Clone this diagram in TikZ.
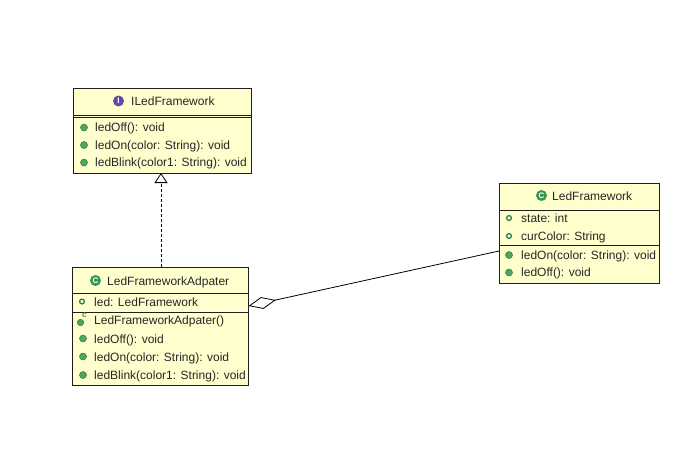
\documentclass[tikz,border=0pt]{standalone}
\usepackage{fontspec}
\setmainfont{Liberation Sans}
\usetikzlibrary{arrows.meta}
\definecolor{boxfill}{RGB}{255,255,206}
\definecolor{boxline}{RGB}{30,30,30}
\definecolor{methfill}{RGB}{80,165,95}
\definecolor{methdraw}{RGB}{45,120,60}
\definecolor{fieldc}{RGB}{45,125,75}
\definecolor{classic}{RGB}{55,150,75}
\definecolor{ifaceic}{RGB}{95,75,165}
\tikzset{
  cls/.style={draw=boxline, fill=boxfill, line width=0.9pt, anchor=north west, inner sep=0pt, outer sep=0pt},
  sep/.style={draw=boxline, line width=0.9pt},
  txt/.style={anchor=base west, inner sep=0pt, font=\fontsize{12}{14}\selectfont, text=black!85},
  hdr/.style={anchor=base west, inner sep=0pt, font=\fontsize{12}{14}\selectfont, text=black!85},
  meth/.style={circle, fill=methfill, draw=methdraw, line width=0.5pt, minimum size=7pt, inner sep=0pt},
  fieldic/.style={circle, draw=fieldc, line width=1.3pt, minimum size=4.8pt, inner sep=0pt},
  hdric/.style={circle, minimum size=11pt, inner sep=0pt, text=white, font=\fontsize{8}{8}\selectfont\bfseries},
  conn/.style={draw=black, line width=0.8pt},
}
\begin{document}
\begin{tikzpicture}[x=1pt,y=-1pt]
\useasboundingbox (0,0) rectangle (686,467);
\fill[white] (0,0) rectangle (686,467);

% ---------------- ILedFramework
\node[cls, minimum width=178pt, minimum height=85pt] (il) at (73,88) {};
\draw[sep] (73,115) -- (251,115);
\draw[sep] (73,117.5) -- (251,117.5);
\node[hdric, fill=ifaceic] (ilic) at (118.5,101) {I};
\node[hdr] (ilt) at (131,105.3) {ILedFramework};
\node[meth] (ilm1) at (84,127.5) {};
\node[txt] (ilt1) at (95,131.8) {ledOff(): void};
\node[meth] (ilm2) at (84,145) {};
\node[txt] (ilt2) at (95,149.3) {ledOn(color: String): void};
\node[meth] (ilm3) at (84,162.5) {};
\node[txt] (ilt3) at (95,166.8) {ledBlink(color1: String): void};

% ---------------- LedFrameworkAdpater
\node[cls, minimum width=176pt, minimum height=118pt] (ad) at (72,267) {};
\draw[sep] (72,293) -- (248,293);
\draw[sep] (72,312) -- (248,312);
\node[hdric, fill=classic] (adic) at (95.5,280.5) {C};
\node[hdr] (adt) at (107,285) {LedFrameworkAdpater};
\node[fieldic] (adf1) at (82,301.5) {};
\node[txt] (adtf1) at (94,306) {led: LedFramework};
\node[circle, fill=methfill, draw=methdraw, line width=0.5pt, minimum size=6.5pt, inner sep=0pt] (adc) at (80.5,322.5) {};
\node[anchor=center, inner sep=0pt, text=classic, font=\fontsize{8.5}{8.5}\selectfont\bfseries] (adcc) at (84.5,315.5) {c};
\node[txt] (adt0) at (94,324.5) {LedFrameworkAdpater()};
\node[meth] (adm1) at (83,338.5) {};
\node[txt] (adt1) at (94,343) {ledOff(): void};
\node[meth] (adm2) at (83,356.5) {};
\node[txt] (adt2) at (94,361) {ledOn(color: String): void};
\node[meth] (adm3) at (83,375) {};
\node[txt] (adt3) at (94,379.5) {ledBlink(color1: String): void};

% ---------------- LedFramework
\node[cls, minimum width=160pt, minimum height=100pt] (lf) at (499,183) {};
\draw[sep] (499,210) -- (659,210);
\draw[sep] (499,245) -- (659,245);
\node[hdric, fill=classic] (lfic) at (541.5,195.5) {C};
\node[hdr] (lft) at (552,200) {LedFramework};
\node[fieldic] (lff1) at (509,218) {};
\node[txt] (lftf1) at (521,222.3) {state: int};
\node[fieldic] (lff2) at (509,236) {};
\node[txt] (lftf2) at (521,240.3) {curColor: String};
\node[meth] (lfm1) at (509,255) {};
\node[txt] (lft1) at (521,259.3) {ledOn(color: String): void};
\node[meth] (lfm2) at (509,272.5) {};
\node[txt] (lft2) at (521,276.8) {ledOff(): void};

% ---------------- connectors
\coordinate (adtop) at (161,267);
\coordinate (ilbot) at (161,173);
\draw[conn, dash pattern=on 3pt off 2pt, -{Triangle[open, width=13pt, length=10pt, line width=0.8pt, fill=white]}] (adtop) -- (ilbot);
\coordinate (lfleft) at (499,251);
\coordinate (adright) at (248.5,306);
\draw[conn, -{Diamond[open, length=28pt, width=12pt, line width=0.8pt, fill=white]}] (lfleft) -- (adright);
\end{tikzpicture}
\end{document}
